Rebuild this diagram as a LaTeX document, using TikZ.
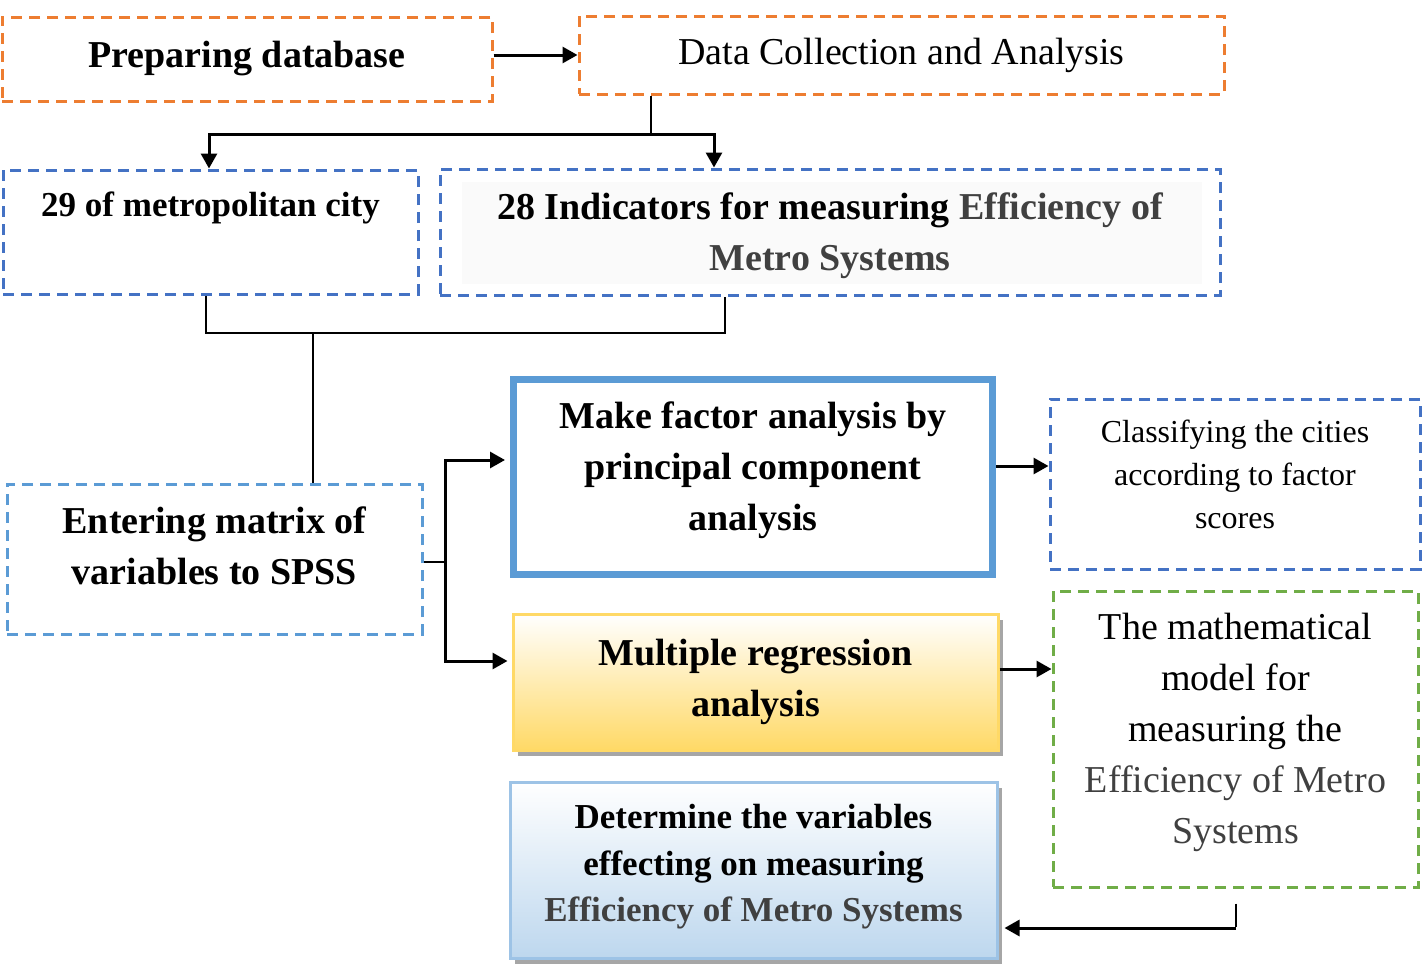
\documentclass[tikz,border=0pt]{standalone}
\usepackage{fontspec}
\setmainfont{Liberation Serif}
\usetikzlibrary{arrows.meta,shadows,backgrounds}

\definecolor{dborange}{HTML}{ED7D31}
\definecolor{dbblue}{HTML}{4472C4}
\definecolor{lightblue}{HTML}{5B9BD5}
\definecolor{dbgreen}{HTML}{70AD47}
\definecolor{dbyellow}{HTML}{FFD966}
\definecolor{paleblue}{HTML}{BDD7EE}
\definecolor{paleborder}{HTML}{9DC3E6}
\definecolor{effgray}{HTML}{404040}

\newcommand\fsbig{\fontsize{38}{51}\selectfont}
\newcommand\fsmid{\fontsize{35}{50}\selectfont}
\newcommand\fsdet{\fontsize{35}{46.5}\selectfont}
\newcommand\fssmall{\fontsize{32}{43}\selectfont}
\newcommand\eff[1]{{\color{effgray}#1}}
% extra depth under the last line, lifts the text in its box
\newcommand\liftby[1]{\rule[-#1]{0pt}{#1}}

\begin{document}
\begin{tikzpicture}[x=1pt,y=-1pt,
  box/.style={rectangle,inner sep=0pt,align=center,line width=3pt,dash pattern=on 11pt off 7pt},
  solidbox/.style={rectangle,inner sep=0pt,align=center,line width=3pt},
  shade/.style={drop shadow={shadow xshift=5pt,shadow yshift=-6pt,fill=black!35,opacity=1}},
  arr/.style={line width=3pt,-{Triangle[length=15pt,width=16pt]}},
  link/.style={line width=2.5pt}]
  \useasboundingbox (0,0) rectangle (1424,964);

  % DATABASE
  \node[box,draw=dborange,minimum width=490pt,minimum height=84pt,font=\fsbig\bfseries] (prep) at (247,59) {Preparing database};
  \node[box,draw=dborange,minimum width=645pt,minimum height=78pt,font=\fsbig] (collect) at (901.5,55) {Data Collection and Analysis};

  % CITIES AND INDICATORS
  \node[box,draw=dbblue,minimum width=415pt,minimum height=124pt,font=\fsmid\bfseries] (cities) at (210.5,232) {29 of metropolitan city\\ \liftby{5pt}};
  \node[box,draw=dbblue,minimum width=780pt,minimum height=126pt,font=\fsbig\bfseries] (indic) at (830,232) {\rule{0pt}{34pt}28 Indicators for measuring \eff{Efficiency of}\\ \eff{Metro Systems}};

  % SPSS
  \node[box,draw=lightblue,minimum width=415pt,minimum height=150pt,font=\fsbig\bfseries] (enter) at (214.5,559) {Entering matrix of\\ variables to SPSS\liftby{27pt}};

  % ANALYSIS
  \node[solidbox,draw=lightblue,line width=7pt,minimum width=479pt,minimum height=195pt,font=\fsbig\bfseries] (factor) at (753,477) {Make factor analysis by\\ principal component\\ analysis\liftby{22pt}};
  \node[solidbox,shade,draw=dbyellow,top color=white,bottom color=dbyellow,minimum width=485pt,minimum height=136pt,font=\fsbig\bfseries] (regress) at (755.5,682) {Multiple regression\\ analysis};
  \node[solidbox,shade,draw=paleborder,top color=white,bottom color=paleblue,minimum width=487pt,minimum height=176pt,font=\fsdet\bfseries] (determine) at (753.5,870) {Determine the variables\\ effecting on measuring\\ \eff{Efficiency of Metro Systems}\liftby{14pt}};

  % RESULTS
  \node[box,draw=dbblue,minimum width=370pt,minimum height=170pt,font=\fssmall] (classify) at (1235,484) {Classifying the cities\\ according to factor\\ scores\liftby{20pt}};
  \node[box,draw=dbgreen,minimum width=365pt,minimum height=296pt,font=\fsbig] (model) at (1235.5,739) {The mathematical\\ model for\\ measuring the\\ \eff{Efficiency of Metro}\\ \eff{Systems}\liftby{22pt}};

  % connectors
  \draw[arr] (prep.east |- collect.west) -- (collect.west);
  \coordinate (fork) at (651,134);
  \draw[line width=2pt] (collect.south -| fork) -- (fork);
  \draw[arr] (fork) -| ([xshift=-1.5pt]cities.north);
  \draw[arr] (fork) -| ([xshift=-116pt]indic.north);

  \coordinate (merge) at (313,333);
  \draw[link] ([xshift=-4.5pt]cities.south) |- (merge) -| ([xshift=-105pt]indic.south);
  \draw[link] (merge) -- (merge |- enter.north);

  \coordinate (branch) at (445,562);
  \draw[link] (enter.east |- branch) -- (branch);
  \draw[arr,shorten >=5pt] (branch) |- ([yshift=17pt]factor.west);
  \draw[arr,shorten >=4pt] (branch) |- ([yshift=21pt]regress.west);

  \draw[arr] ([yshift=11pt]factor.east) -- ([yshift=11pt]factor.east -| classify.west);
  \draw[arr] ([yshift=13pt]regress.east) -- ([yshift=13pt]regress.east -| model.west);

  \coordinate (turn) at (1236,928);
  \draw[line width=2pt] ([yshift=-15pt]model.south) -- ([yshift=-38pt]model.south);
  \draw[arr,shorten >=6pt] (turn) -- (determine.east |- turn);

  \begin{pgfonlayer}{background}
    \fill[white] (0,0) rectangle (1424,964);
    \fill[black!2] ([xshift=23pt,yshift=-14pt]indic.north west) rectangle ([xshift=-20pt,yshift=13pt]indic.south east);
  \end{pgfonlayer}
\end{tikzpicture}
\end{document}
